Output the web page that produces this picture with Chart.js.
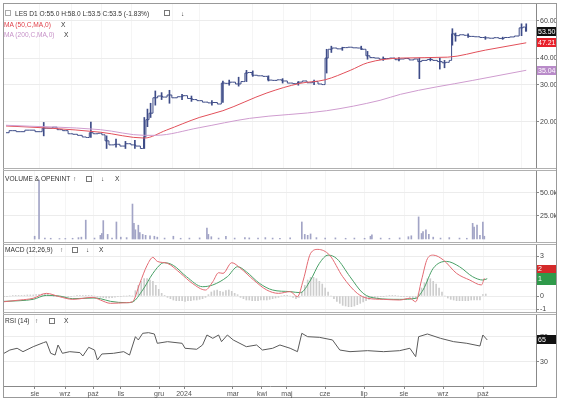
<!DOCTYPE html>
<html><head><meta charset="utf-8">
<script src="https://cdn.jsdelivr.net/npm/chart.js@4/dist/chart.umd.min.js"></script>
<style>
body{margin:0;background:#fff;width:564px;height:405px;overflow:hidden;position:relative;font-family:"Liberation Sans",Arial,sans-serif}
canvas{position:absolute;left:4px}
.t{position:absolute;font-size:6.6px;color:#333;white-space:nowrap;line-height:8px}
.sep{position:absolute;left:3px;width:553px;height:1px;background:#b0b0b0}
.ic{position:absolute;width:4px;height:4px;border:1px dashed #777}
</style></head><body>
<div style="position:absolute;left:3px;top:3px;width:552px;height:393px;border:1px solid #999"></div>
<div class="sep" style="top:168px"></div><div class="sep" style="top:170px"></div>
<div class="sep" style="top:242px"></div><div class="sep" style="top:244px"></div>
<div class="sep" style="top:312px"></div><div class="sep" style="top:314px"></div>
<canvas id="cp" width="552" height="164" style="top:4px"></canvas>
<canvas id="cv" width="552" height="71" style="top:171px"></canvas>
<canvas id="cm" width="552" height="67" style="top:245px"></canvas>
<canvas id="cr" width="552" height="83" style="top:315px"></canvas>

<div class="ic" style="left:5px;top:10px;border-color:#aaa"></div>
<div class="t" style="left:15px;top:10px">LES D1 O:55.0 H:58.0 L:53.5 C:53.5 (-1.83%)</div>
<div class="ic" style="left:164px;top:10px"></div>
<div class="t" style="left:181px;top:10px">↓</div>
<div class="t" style="left:4px;top:21px;color:#e0404a">MA (50,C,MA,0)</div>
<div class="t" style="left:61px;top:21px">X</div>
<div class="t" style="left:4px;top:31px;color:#c792c8">MA (200,C,MA,0)</div>
<div class="t" style="left:64px;top:31px">X</div>

<div class="t" style="left:5px;top:175px">VOLUME &amp; OPENINT</div>
<div class="t" style="left:73px;top:175px">↑</div>
<div class="ic" style="left:86px;top:176px"></div>
<div class="t" style="left:101px;top:175px">↓</div>
<div class="t" style="left:115px;top:175px">X</div>

<div class="t" style="left:5px;top:246px">MACD (12,26,9)</div>
<div class="t" style="left:60px;top:246px">↑</div>
<div class="ic" style="left:72px;top:247px"></div>
<div class="t" style="left:86px;top:246px">↓</div>
<div class="t" style="left:99px;top:246px">X</div>

<div class="t" style="left:5px;top:317px">RSI (14)</div>
<div class="t" style="left:35px;top:317px">↑</div>
<div class="ic" style="left:49px;top:318px"></div>
<div class="t" style="left:64px;top:317px">X</div>

<script>
// ---- categories: trading-day positions of month labels ----
const monthDay = [21.2, 41.8, 61, 80.1, 106.2, 123.3, 156.8, 176.7, 193.8, 219.9, 246.6, 274, 300.7, 328.1];
const monthLabel = ['sie','wrz','paź','lis','gru','2024','mar','kwi','maj','cze','lip','sie','wrz','paź'];

// ---- price (close) ----
const priceDay = [0,4,9,15,22,24,28,31,34,38,41,44,47,50,52,54,57,60,62,64,67,71,74,78,81,84,87,88,90,92,95,98,101,104,107,111,114,117,120,123,127,130,133,136,138,141,144,148,151,153,155,158,162,165,168,171,174,177,181,184,187,190,193,197,200,202,204,206,209,212,216,219,222,225,228,230,233,236,239,242,246,249,252,255,258,261,263,266,270,273,276,279,281,283,284,287,290,293,296,300,303,306,309,312,315,319,322,325,328,330,331];
const priceClose = [17.8,18.2,18.0,18.3,18.0,18.7,18.7,18.9,18.4,18.2,17.6,17.5,17.3,17.0,16.9,17.8,17.6,17.7,17.4,16.3,15.6,15.7,15.4,15.8,15.6,15.4,15.0,17.0,20.5,22.0,26.0,26.5,26.2,26.8,26.0,26.3,26.6,25.8,25.5,25.2,24.8,24.6,24.7,24.3,30.5,30.4,30.8,30.2,31.0,34.0,34.2,33.2,33.0,32.8,31.5,31.4,31.6,31.2,30.5,30.3,30.8,31.2,30.6,31.0,30.2,30.0,40.0,44.0,44.6,44.2,44.8,45.0,44.7,44.6,44.0,41.0,40.2,40.0,39.5,39.8,40.0,39.3,39.6,39.8,39.2,39.6,38.5,39.0,39.4,39.0,38.5,38.0,38.2,39.0,52.0,51.0,51.5,51.2,50.6,50.4,50.0,49.8,49.6,49.9,49.5,50.0,50.3,50.8,55.5,56.0,53.5];
// high-low ranges of notable bars
const rangeDay  = [24,54,64,70,76,82,88,90,92,95,99,104,112,118,131,138,142,148,153,157,167,176,186,196,204,207,214,226,230,240,250,263,270,276,279,284,286,294,305,316,328,331];
const rangeLow  = [17.2,16.9,15.0,15.2,15.0,15.0,15.0,19.0,21.0,24.0,25.5,24.5,25.5,25.0,24.0,24.7,29.8,29.5,31.0,32.8,31.2,30.5,29.8,30.0,34.0,42.5,43.5,43.8,39.5,39.0,38.8,32.0,38.8,35.5,36.0,46.0,48.0,50.0,49.0,49.0,51.0,53.5];
const rangeHigh = [19.9,20.0,17.2,16.6,16.2,16.4,21.0,23.0,24.5,28.0,27.5,28.2,27.0,26.5,25.2,31.2,31.5,32.5,35.0,34.8,33.0,32.0,31.0,31.5,44.0,45.5,45.0,45.5,43.0,40.5,40.2,40.0,39.9,40.0,39.0,55.0,52.5,52.0,50.5,50.2,58.0,58.0];
// moving averages
const ma50Day = [0,28,60,88,102,123,138,166,187,203,219,230,251,281,305,331];
const ma50Val = [19.15,18.7,17.9,16.8,18.3,21.0,22.6,27.4,30.4,31.6,35.0,38.0,40.0,40.4,43.6,47.21];
const ma200Day = [0,60,88,95,123,155,204,238,251,297,331];
const ma200Val = [19.3,18.4,17.3,17.3,18.8,20.8,22.6,25.3,27.0,31.4,35.04];
const priceTicks = [20,30,40,60];

// ---- volume ----
const volDay = [21,24,28,32,38,42,47,51,53,56,62,66,67,68,71,74,77,80,84,88,89,90,92,93,95,97,100,103,105,110,116,121,127,134,139,140,142,147,152,158,165,168,174,179,184,189,196,204,206,208,210,214,220,227,234,240,247,251,252,258,264,271,277,279,284,286,287,289,291,294,299,305,312,317,321,322,324,326,328,329];
const volVal = [3000,64000,1000,800,500,600,800,1500,2000,20500,1000,4000,6000,20000,5000,1000,18500,2000,1500,38000,17000,10000,15000,7000,5000,4000,3500,3000,2000,1000,3000,800,1000,1200,12000,5000,2500,1000,3000,1000,1500,1200,1000,1500,1000,800,1200,18500,5000,4000,5500,1500,1000,1200,800,1000,800,3000,4500,1000,800,1200,2500,3500,24000,6000,8000,10000,5000,2000,1000,1500,1000,800,17000,13000,15000,4000,18500,3000];
const volTicks = [25000,50000];

// ---- MACD (12,26,9) ----
const macdDay = [0,11,20,29,38,47,61,66,73,84,88,93,98,102,105,112,121,129,138,143,147,150,156,162,171,180,188,196,201,205,210,215,223,232,242,249,260,271,278,282,286,290,294,301,310,319,327,329];
const macdVal = [-0.43,-0.3,-0.17,0.2,-0.05,-0.25,-0.1,-0.3,-0.55,-0.5,-0.43,0.95,2.3,2.9,2.6,2.45,1.7,0.95,0.45,1.07,1.75,1.7,2.5,2.08,1.2,0.45,0.2,0.33,-0.05,1.2,3.2,3.5,3.07,1.45,0.2,-0.17,-0.25,-0.3,-0.17,-0.43,1.2,2.8,3.07,2.7,1.7,1.2,0.83,1.33];
const sigDay = [0,11,20,29,38,47,61,66,73,84,88,95,102,108,110,116,125,136,143,153,160,166,175,184,196,203,210,216,222,228,237,246,255,271,282,287,294,303,312,321,328,331];
const sigVal = [-0.4,-0.35,-0.25,0.05,0.0,-0.2,-0.15,-0.2,-0.4,-0.5,-0.45,0.45,1.7,2.45,2.5,2.3,1.45,0.7,0.83,1.45,2.2,1.82,0.95,0.45,0.33,0.25,1.2,2.45,3.07,2.8,1.45,0.2,-0.17,-0.25,-0.17,0.45,2.08,2.6,2.2,1.45,1.2,1.3];
const histStartDay = 0, histStepDays = 2;
const histVal = [-0.05,-0.05,0.0,0.03,0.05,0.05,0.05,0.06,0.08,0.08,0.08,0.1,0.12,0.15,0.15,0.12,0.05,-0.02,-0.05,-0.05,-0.06,-0.06,-0.05,-0.05,0.0,0.03,0.05,0.05,0.05,0.05,0.05,0.0,-0.08,-0.1,-0.12,-0.15,-0.15,-0.12,-0.08,-0.05,-0.03,0.0,0.0,0.02,
 0.0,0.4,0.8,1.1,1.3,1.3,1.2,1.1,0.8,0.5,0.2,0.05,
 -0.1,-0.2,-0.3,-0.35,-0.35,-0.35,-0.4,-0.35,-0.35,-0.3,-0.3,-0.25,-0.2,
 -0.1,0.1,0.3,0.4,0.45,0.35,0.3,0.4,0.45,0.35,0.2,0.1,
 -0.1,-0.2,-0.3,-0.3,-0.35,-0.35,-0.35,-0.3,-0.3,-0.3,-0.25,-0.2,-0.15,
 -0.1,0.0,0.05,0.05,0.0,-0.1,-0.2,-0.1,
 0.3,0.8,1.2,1.4,1.4,1.3,1.1,0.9,0.6,0.3,
 0.0,-0.2,-0.4,-0.55,-0.7,-0.75,-0.8,-0.8,-0.75,-0.65,-0.55,-0.45,-0.35,-0.25,
 -0.15,-0.1,-0.1,-0.05,-0.05,0.0,0.03,0.05,0.03,0.0,-0.03,-0.05,-0.05,-0.1,-0.15,-0.2,
 0.2,0.6,1.0,1.3,1.3,1.1,0.9,0.6,0.3,
 0.0,-0.15,-0.25,-0.3,-0.35,-0.35,-0.35,-0.35,-0.35,-0.3,-0.3,-0.3,-0.3,
 0.1,0.15];
const macdTicks = [-1,0,1,2,3];

// ---- RSI (14) ----
const rsiDay = [0,4,9,13,20,27,29,32,35,37,40,45,52,54,58,62,64,67,75,82,86,90,92,95,99,103,105,112,122,124,132,136,139,143,147,149,153,157,166,173,177,184,189,196,201,204,208,216,225,230,237,249,260,271,278,282,284,290,299,308,317,326,328,331];
const rsiVal = [43.8,49,51.8,46.4,54.3,60.7,62.3,43.8,41,57,43.8,46.4,44.9,39.5,53.3,49,33.2,42.7,43.8,46.4,41,70.2,65,75.6,76.6,74.5,59.7,62.3,59.7,51.8,50.2,57,72.9,67.6,72.9,62.3,72.9,65,54.3,57,49,51.8,57,51.8,46.4,75.6,70.2,69.2,65,49,46.4,48,46.4,48,51.8,38.4,70.2,74.5,67.6,62.3,59.7,55.4,72.9,65];
const rsiTicks = [30,70];

// ---------------------------------------------------------------
const FONT = {size:7, family:'"Liberation Sans", Arial, sans-serif'};
const pts = (xs, ys) => xs.map((x,i)=>({x, y:ys[i]}));

const boxPlugin = {
  id:'boxes',
  afterDraw(chart, args, opts){
    const ys = chart.scales.y, ctx = chart.ctx;
    (opts.items||[]).forEach(b=>{
      const py = ys.getPixelForValue(b.value);
      const h = b.h || 9, x0 = chart.chartArea.right + 1;
      ctx.save();
      ctx.fillStyle = b.bg; ctx.fillRect(x0, Math.round(py-h/2), 19, h);
      ctx.fillStyle = b.fg || '#fff'; ctx.font = '7px "Liberation Sans", Arial';
      ctx.textBaseline = 'middle'; ctx.textAlign = 'left';
      ctx.fillText(b.text, x0+1, py+0.5);
      ctx.restore();
    });
  }
};

function xScale(min, max, show){
  return {
    type:'linear', min, max, offset:false,
    afterBuildTicks: s => { s.ticks = monthDay.map(v=>({value:v})); },
    grid:{color:'#f5f5f5', offset:false, drawTicks:show, tickLength:3, tickColor:'#888'},
    border:{display:show, color:'#888'},
    ticks:{display:show, autoSkip:false, maxRotation:0, font:FONT, color:'#555', padding:1,
           callback:(v,i)=>monthLabel[i]},
    afterFit: s => { s.height = show ? 12 : 0; s.paddingLeft = 0; s.paddingRight = 0; }
  };
}
function yScale(extra, tickVals, fmt){
  return Object.assign({
    position:'right',
    afterBuildTicks: s => { s.ticks = tickVals.map(v=>({value:v})); },
    grid:{color:'#ececec', tickLength:3, tickColor:'#888'},
    border:{display:true, color:'#888'},
    ticks:{font:FONT, color:'#444', padding:1, callback:fmt},
    afterFit: s => { s.width = 20; s.paddingTop = 0; s.paddingBottom = 0; }
  }, extra);
}
const base = {
  responsive:false, animation:false, devicePixelRatio:1,
  layout:{padding:0},
  plugins:{legend:{display:false}, tooltip:{enabled:false}}
};
const lineDs = (data, color, extra) => Object.assign({type:'line', data, borderColor:color, borderWidth:1, pointRadius:0, fill:false}, extra||{});
const NAVY = '#3e4c88';

// PRICE
new Chart(document.getElementById('cp'), {
  type:'line',
  data:{datasets:[
    lineDs(pts(ma200Day, ma200Val), '#cf9ccf', {cubicInterpolationMode:'monotone'}),
    lineDs(pts(ma50Day, ma50Val), '#e2505a', {cubicInterpolationMode:'monotone'}),
    {type:'bar', data: rangeDay.map((d,i)=>({x:d, y:[rangeLow[i], rangeHigh[i]]})), backgroundColor:NAVY, barThickness:1, grouped:false},
    lineDs(pts(priceDay, priceClose), NAVY, {stepped:'middle'})
  ]},
  options:Object.assign({}, base, {
    scales:{
      x: xScale(-1.27, 337.2, false),
      y: yScale({type:'logarithmic', min:12.14, max:71.9}, priceTicks, v=>Number(v).toFixed(2))
    },
    plugins:Object.assign({}, base.plugins, {boxes:{items:[
      {value:53.5, text:'53.50', bg:'#111'},
      {value:47.21, text:'47.21', bg:'#e8202a'},
      {value:35.04, text:'35.04', bg:'#b98bc9'}
    ]}})
  }),
  plugins:[boxPlugin]
});

// VOLUME
new Chart(document.getElementById('cv'), {
  type:'bar',
  data:{datasets:[{data:pts(volDay, volVal), backgroundColor:'#a2a4c6', barThickness:1, grouped:false}]},
  options:Object.assign({}, base, {
    scales:{
      x: xScale(0, 364.4, false),
      y: yScale({type:'linear', min:-3261, max:73913}, volTicks, v=>(v/1000).toFixed(1)+'k')
    }
  })
});

// MACD
new Chart(document.getElementById('cm'), {
  type:'bar',
  data:{datasets:[
    {type:'bar', data: histVal.map((v,i)=>({x:histStartDay + i*histStepDays, y:v})), backgroundColor:'#cdcdcd', barThickness:1, grouped:false, order:3},
    lineDs(pts(sigDay, sigVal), '#48a066', {cubicInterpolationMode:'monotone', order:2}),
    lineDs(pts(macdDay, macdVal), '#e36a72', {cubicInterpolationMode:'monotone', order:1})
  ]},
  options:Object.assign({}, base, {
    scales:{
      x: xScale(0, 364.4, false),
      y: yScale({type:'linear', min:-1.2, max:3.83}, macdTicks, v=>String(v))
    },
    plugins:Object.assign({}, base.plugins, {boxes:{items:[
      {value:2.05, text:'2', bg:'#d42a2a', h:8},
      {value:1.3, text:'1', bg:'#2f9a4a', h:12}
    ]}})
  }),
  plugins:[boxPlugin]
});

// RSI
new Chart(document.getElementById('cr'), {
  type:'line',
  data:{datasets:[lineDs(pts(rsiDay, rsiVal), '#5a5a5a')]},
  options:Object.assign({}, base, {
    scales:{
      x: xScale(0, 364.4, true),
      y: yScale({type:'linear', min:-8.2, max:104.7}, rsiTicks, v=>String(v))
    },
    plugins:Object.assign({}, base.plugins, {boxes:{items:[
      {value:65, text:'65', bg:'#111'}
    ]}})
  }),
  plugins:[boxPlugin]
});
</script>
</body></html>
